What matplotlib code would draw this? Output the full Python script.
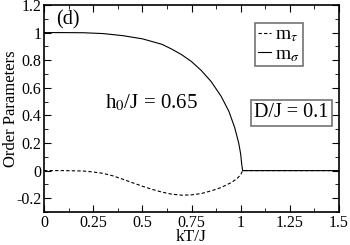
import numpy as np
import matplotlib.pyplot as plt
from matplotlib.ticker import MultipleLocator

plt.rcParams['font.family'] = ['Liberation Serif', 'DejaVu Serif']
plt.rcParams['mathtext.fontset'] = 'stix'

# m_sigma (solid)
t_sigma = [0.0, 0.1, 0.2, 0.3, 0.4, 0.5, 0.6, 0.65, 0.7, 0.75, 0.8, 0.85, 0.9, 0.94, 0.97, 0.99, 1.0, 1.005, 1.01, 1.1, 1.3, 1.5]
m_sigma = [1.0, 1.0, 0.999, 0.993, 0.978, 0.955, 0.915, 0.88, 0.84, 0.79, 0.725, 0.645, 0.54, 0.43, 0.31, 0.2, 0.12, 0.05, 0.0, 0.0, 0.0, 0.0]

# m_tau (dashed)
t_tau = [0.0, 0.1, 0.2, 0.25, 0.3, 0.35, 0.4, 0.45, 0.5, 0.55, 0.6, 0.65, 0.7, 0.75, 0.8, 0.85, 0.9, 0.95, 0.98, 1.0, 1.01, 1.1, 1.3, 1.5]
m_tau = [0.0, 0.0, -0.003, -0.01, -0.02, -0.038, -0.062, -0.088, -0.113, -0.136, -0.156, -0.171, -0.178, -0.176, -0.166, -0.147, -0.123, -0.088, -0.06, -0.03, 0.0, 0.0, 0.0, 0.0]

fig = plt.figure(figsize=(3.5, 2.45), dpi=100)
ax = fig.add_axes([44/350, 33/245, 295/350, 207/245])

ax.plot(t_tau, m_tau, color='black', linestyle=(0, (3, 2)), linewidth=0.8, label=r'm$_\tau$')
ax.plot(t_sigma, m_sigma, color='black', linewidth=0.8, label=r'm$_\sigma$')

ax.set_xlim(0, 1.5)
ax.set_ylim(-0.3, 1.2)
ax.xaxis.set_minor_locator(MultipleLocator(0.125))
ax.yaxis.set_minor_locator(MultipleLocator(0.1))
ax.set_xticks([0, 0.25, 0.5, 0.75, 1, 1.25, 1.5])
ax.set_xticklabels(['0', '0.25', '0.5', '0.75', '1', '1.25', '1.5'])
ax.set_yticks([-0.2, 0, 0.2, 0.4, 0.6, 0.8, 1, 1.2])
ax.set_yticklabels(['-0.2', '0', '0.2', '0.4', '0.6', '0.8', '1', '1.2'])
ax.tick_params(which='both', direction='in', top=True, right=True, labelsize=11.5, pad=2)
ax.tick_params(which='major', length=5)
ax.tick_params(which='minor', length=3)
for s in ax.spines.values():
    s.set_linewidth(1.2)

ax.set_xlabel('kT/J', fontsize=12.5)
ax.xaxis.set_label_coords(0.5, -0.138)
ax.xaxis.label.set_va('baseline')
ax.set_ylabel('Order Parameters', fontsize=12)
ax.yaxis.set_label_coords(-0.112, 0.5)
ax.yaxis.label.set_va('center')

ax.text(0.06, 1.09, '(d)', fontsize=14.5, va='center', ha='left')
ax.text(0.31, 0.49, r'h$_0$/J = 0.65', fontsize=15, va='center', ha='left')
ax.text(1.07, 0.42, 'D/J = 0.1', fontsize=14.5, va='center', ha='left',
        bbox=dict(boxstyle='square,pad=0.18', fc='white', ec='0.45', lw=1.2))

leg = ax.legend(loc='upper right', bbox_to_anchor=(0.878, 0.913), fontsize=14, handlelength=0.7,
                handletextpad=0.2, borderpad=0.15, labelspacing=0.05, fancybox=False, framealpha=1,
                borderaxespad=0)
leg.get_frame().set_edgecolor('0.45')
leg.get_frame().set_linewidth(1.2)

fig.savefig('out.png', dpi=100)
